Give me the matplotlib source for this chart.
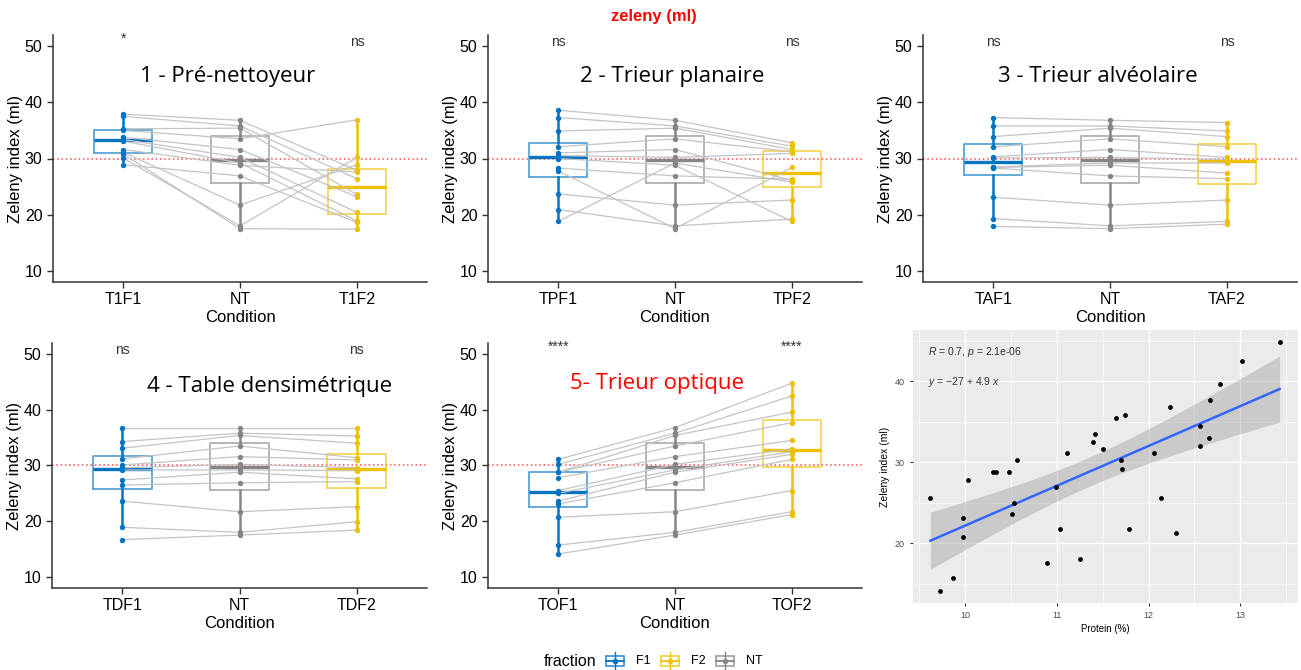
import numpy as np
import matplotlib.pyplot as plt
from matplotlib.patches import Rectangle

plt.rcParams['font.family'] = ['Liberation Sans', 'DejaVu Sans']
plt.rcParams['mathtext.fontset'] = 'custom'
plt.rcParams['mathtext.rm'] = 'Liberation Sans'
plt.rcParams['mathtext.it'] = 'Liberation Sans:italic'

# NT (non trié) - same 12 samples in every panel
nt = [36.8, 35.8, 35.4, 33.5, 31.6, 30.2, 29.2, 28.8, 26.9, 21.7, 18.0, 17.5]

# fractions, same sample order as nt
t1f1 = [37.9, 37.5, 35.3, 35.0, 33.8, 33.4, 33.1, 31.6, 28.9, 31.1, 30.1, 30.8]
t1f2 = [27.9, 26.4, 23.6, 36.9, 23.2, 20.4, 18.9, 27.6, 18.6, 28.9, 30.2, 17.4]
tpf1 = [38.6, 37.3, 34.9, 32.1, 31.0, 30.5, 18.8, 30.0, 28.3, 23.7, 20.9, 27.8]
tpf2 = [32.8, 32.2, 31.6, 31.2, 26.1, 30.9, 25.8, 18.8, 26.3, 22.6, 19.2, 28.4]
taf1 = [37.3, 35.8, 33.9, 32.1, 30.3, 30.1, 28.5, 28.4, 28.3, 23.1, 19.3, 17.9]
taf2 = [36.4, 34.9, 33.9, 32.1, 30.2, 29.8, 29.2, 27.4, 26.4, 22.6, 18.8, 18.3]
tdf1 = [36.8, 34.3, 33.1, 31.2, 30.1, 29.6, 29.2, 27.4, 26.5, 23.6, 18.9, 16.7]
tdf2 = [36.8, 35.3, 34.0, 31.4, 31.0, 29.6, 29.1, 27.6, 27.1, 22.6, 19.9, 18.4]
tof1 = [31.1, 30.2, 28.8, 28.8, 27.8, 25.5, 25.0, 23.6, 23.1, 20.7, 15.7, 14.1]
tof2 = [44.8, 42.5, 39.6, 37.7, 34.5, 33.0, 32.5, 32.0, 31.1, 25.5, 21.7, 21.2]

tick_labels = [['T1F1', 'NT', 'T1F2'], ['TPF1', 'NT', 'TPF2'], ['TAF1', 'NT', 'TAF2'],
               ['TDF1', 'NT', 'TDF2'], ['TOF1', 'NT', 'TOF2']]
titles = ['1 - Pré-nettoyeur', '2 - Trieur planaire', '3 - Trieur alvéolaire',
          '4 - Table densimétrique', '5- Trieur optique']
signif = [['*', 'ns'], ['ns', 'ns'], ['ns', 'ns'], ['ns', 'ns'], ['****', '****']]

# protein vs zeleny (TOF1 + NT + TOF2)
protein = [9.62, 9.72, 9.87, 9.97, 9.98, 10.03, 10.30, 10.33, 10.48, 10.51, 10.53, 10.56,
           10.89, 10.99, 11.03, 11.11, 11.25, 11.39, 11.42, 11.50, 11.64, 11.70, 11.71, 11.74,
           11.79, 12.06, 12.14, 12.23, 12.30, 12.56, 12.56, 12.66, 12.67, 12.78, 13.02, 13.43]
zeleny = [25.5, 14.1, 15.7, 23.1, 20.7, 27.8, 28.8, 28.8, 28.8, 23.6, 25.0, 30.2,
          17.5, 26.9, 21.7, 31.1, 18.0, 32.5, 33.5, 31.6, 35.4, 30.2, 29.2, 35.8,
          21.7, 31.1, 25.5, 36.8, 21.2, 34.5, 32.0, 33.0, 37.7, 39.6, 42.5, 44.8]

blue, yellow, grey = '#0073C2', '#EFC000', '#868686'

W, H = 1301, 670
fig = plt.figure(figsize=(W / 100, H / 100), dpi=100)


def px_axes(l, t, r, b):
    return fig.add_axes([l / W, 1 - b / H, (r - l) / W, (b - t) / H])


def draw_panel(ax, f1, f2, labels, title, sig, title_xy, title_color='black'):
    data = [f1, nt, f2]
    cols = [blue, grey, yellow]
    bp = ax.boxplot(data, positions=[1, 2, 3], widths=0.5, whis=1.5, showfliers=False,
                    capprops=dict(linewidth=0))
    for i, c in enumerate(cols):
        bp['boxes'][i].set(color=c, alpha=0.65, linewidth=1.3)
        bp['medians'][i].set(color=c, linewidth=2.4)
        for w in bp['whiskers'][2 * i:2 * i + 2]:
            w.set(color=c, linewidth=1.8)
    for i in range(len(nt)):
        ax.plot([1, 2, 3], [f1[i], nt[i], f2[i]], color='#c4c4c4', lw=0.9, zorder=3)
    for i, c in enumerate(cols):
        ax.scatter([i + 1] * len(data[i]), data[i], s=15, color=c, zorder=5, lw=0)
    ax.axhline(30, color='red', ls=(0, (1, 1.8)), lw=1.1, alpha=0.7, zorder=1)
    ax.set_xlim(0.4, 3.6)
    ax.set_ylim(8, 52)
    ax.set_yticks([10, 20, 30, 40, 50])
    ax.set_xticks([1, 2, 3])
    ax.set_xticklabels(labels)
    ax.tick_params(labelsize=11.5, length=4, width=1, color='#333333', labelcolor='black')
    for s in ['top', 'right']:
        ax.spines[s].set_visible(False)
    for s in ['left', 'bottom']:
        ax.spines[s].set_color('#333333')
        ax.spines[s].set_linewidth(1.1)
    ax.set_xlabel('Condition', fontsize=12, labelpad=2)
    ax.set_ylabel('Zeleny index (ml)', fontsize=12, labelpad=1)
    for x, s in zip([1, 3], sig):
        y = 51.3 if '*' in s else 50.7
        ax.text(x, y, s, ha='center', va='center', fontsize=10, color='#333333', clip_on=False)
    ax.text(title_xy[0], title_xy[1], title, ha='center', va='center', fontsize=16,
            family='Open Sans', color=title_color)


frames = [(53, 35, 427, 282), (488, 35, 862, 282), (923, 35, 1297, 282),
          (52, 343, 427, 588), (488, 343, 862, 588)]
fracs = [(t1f1, t1f2), (tpf1, tpf2), (taf1, taf2), (tdf1, tdf2), (tof1, tof2)]
title_pos = [(1.89, 44.6), (1.98, 44.6), (1.90, 44.6), (2.26, 44.2), (1.85, 44.7)]
for k in range(5):
    ax = px_axes(*frames[k])
    draw_panel(ax, fracs[k][0], fracs[k][1], tick_labels[k], titles[k], signif[k],
               title_pos[k], 'red' if k == 4 else 'black')

fig.text(654 / W, 1 - 17 / H, 'zeleny (ml)', color='red', fontweight='bold', fontsize=12,
         ha='center', va='center')

# scatter with linear fit
axs = px_axes(913, 330, 1298, 603)
x = np.array(protein)
y = np.array(zeleny)
b1, b0 = np.polyfit(x, y, 1)
n = len(x)
resid = y - (b0 + b1 * x)
s_err = np.sqrt(np.sum(resid ** 2) / (n - 2))
xs = np.linspace(x.min(), x.max(), 100)
ys = b0 + b1 * xs
se = s_err * np.sqrt(1 / n + (xs - x.mean()) ** 2 / np.sum((x - x.mean()) ** 2))
t = 2.032
axs.set_facecolor('#EBEBEB')
axs.fill_between(xs, ys - t * se, ys + t * se, color='#999999', alpha=0.4, lw=0, zorder=2)
axs.plot(xs, ys, color='#3366FF', lw=1.8, zorder=3)
axs.scatter(x, y, s=12, color='black', zorder=4, lw=0)
axs.set_xlim(9.43, 13.63)
axs.set_ylim(12.6, 46.3)
axs.set_xticks([10, 11, 12, 13])
axs.set_yticks([20, 30, 40])
axs.set_xticks([9.5, 10.5, 11.5, 12.5, 13.5], minor=True)
axs.set_yticks([15, 25, 35, 45], minor=True)
axs.grid(which='major', color='white', lw=1.0)
axs.grid(which='minor', color='white', lw=0.5)
axs.set_axisbelow(True)
for s in axs.spines.values():
    s.set_visible(False)
axs.tick_params(which='major', labelsize=6.5, length=2.5, color='#333333', labelcolor='#4D4D4D')
axs.tick_params(which='minor', length=0)
axs.set_xlabel('Protein (%)', fontsize=7, labelpad=3)
axs.set_ylabel('Zeleny index (ml)', fontsize=7.5, labelpad=3)
axs.text(0.04, 0.92, r'$R$ = 0.7, $p$ = 2.1e-06', transform=axs.transAxes, fontsize=7.5,
         color='#333333', va='center')
axs.text(0.04, 0.81, r'$y$ = $-$27 + 4.9 $x$', transform=axs.transAxes, fontsize=7.5,
         color='#333333', va='center')

# legend
axl = fig.add_axes([0, 0, 1, 40 / H])
axl.set_xlim(0, W)
axl.set_ylim(670, 630)
axl.axis('off')
axl.text(570, 661, 'fraction', ha='center', va='center', fontsize=11.5)
for x0, c, lab in [(606, blue, 'F1'), (661, yellow, 'F2'), (716, grey, 'NT')]:
    axl.add_patch(Rectangle((x0, 656), 18, 10, fill=False, ec=c, lw=1.2, alpha=0.8))
    axl.plot([x0 + 9, x0 + 9], [652, 670], color=c, lw=1)
    axl.plot([x0, x0 + 18], [661, 661], color=c, lw=1.3)
    axl.scatter([x0 + 9], [661], s=9, color=c, zorder=5)
    axl.text(x0 + 30, 661, lab, ha='left', va='center', fontsize=9)

fig.savefig('out.png', dpi=100)
